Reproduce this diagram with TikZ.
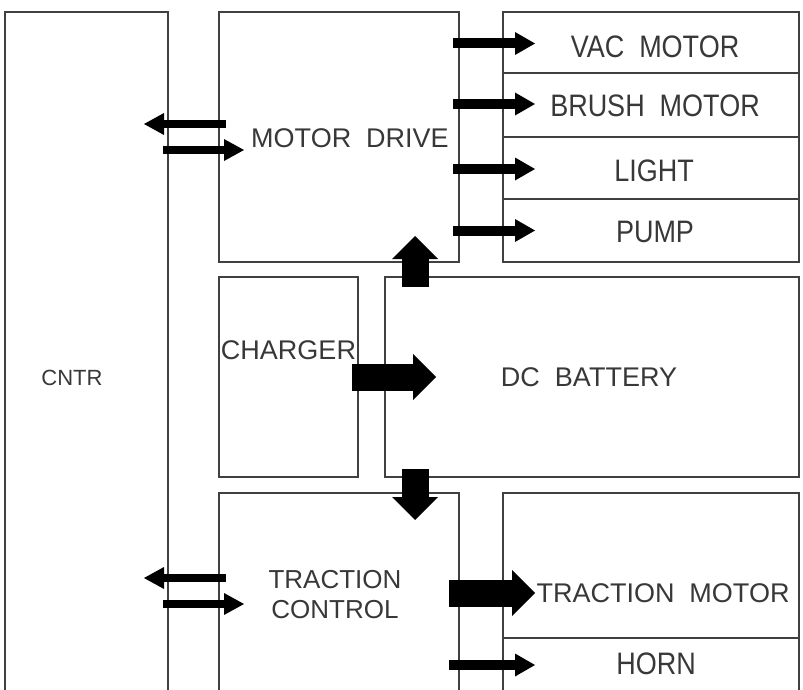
\documentclass[tikz,border=0pt]{standalone}
\usepackage{fontspec}
\usepackage{graphicx}
\setmainfont{Liberation Sans}
\usetikzlibrary{arrows.meta,calc}
\newcommand{\tallmark}[1]{\scalebox{1}[1.15]{#1}}
\begin{document}
\begin{tikzpicture}[x=1pt,y=-1pt,
  box/.style={draw=black!75, line width=1.2pt, inner sep=0pt, outer sep=0pt, anchor=north west, rectangle},
  lbl/.style={text=black!78, inner sep=0pt, font=\fontsize{27pt}{32pt}\selectfont},
  thinarr/.style={line width=10pt, -{Triangle[length=20pt,width=23pt,line width=0pt]}},
  sidearr/.style={line width=8pt, -{Triangle[length=20pt,width=22pt,line width=0pt]}},
  fatarr/.style={line width=27pt, -{Triangle[length=23pt,width=46pt,line width=0pt]}}]
\useasboundingbox (0,0) rectangle (803,690);
\clip (0,0) rectangle (803,690);
% boxes
\node[box, minimum width=163pt, minimum height=720pt] (cntr) at (5,12) {};
\node[box, minimum width=240pt, minimum height=250pt] (md) at (219,12) {};
\node[box, minimum width=296pt, minimum height=61pt] (vac) at (503,12) {};
\node[box, minimum width=296pt, minimum height=64pt] (brush) at (503,73) {};
\node[box, minimum width=296pt, minimum height=62pt] (light) at (503,137) {};
\node[box, minimum width=296pt, minimum height=63pt] (pump) at (503,199) {};
\node[box, minimum width=139pt, minimum height=200pt] (chg) at (219,277) {};
\node[box, minimum width=414pt, minimum height=200pt] (bat) at (385,277) {};
\node[box, minimum width=240pt, minimum height=230pt] (tc) at (219,493) {};
\node[box, minimum width=296pt, minimum height=145pt] (tm) at (503,493) {};
\node[box, minimum width=296pt, minimum height=90pt] (horn) at (503,638) {};
% arrows
\draw[thinarr] ($(md.east|-vac.west)+(-6,1)$) -- ($(vac.west)+(32,1)$);
\draw[thinarr] ($(md.east|-brush.west)+(-6,-1)$) -- ($(brush.west)+(32,-1)$);
\draw[thinarr] ($(md.east|-light.west)+(-6,1)$) -- ($(light.west)+(32,1)$);
\draw[thinarr] ($(md.east|-pump.west)+(-6,0)$) -- ($(pump.west)+(32,0)$);
\draw[sidearr] ($(md.west)+(7,-13)$) -- ($(cntr.east|-md.west)+(-24,-13)$);
\draw[sidearr] ($(cntr.east|-md.west)+(-5,13)$) -- ($(md.west)+(25,13)$);
\draw[sidearr] ($(tc.north west)+(7,85)$) -- ($(cntr.east|-tc.north west)+(-24,85)$);
\draw[sidearr] ($(cntr.east|-tc.north west)+(-5,111)$) -- ($(tc.north west)+(25,111)$);
\draw[fatarr] ($(chg.east)+(-6,0)$) -- ($(bat.west)+(51,0)$);
\draw[fatarr] ($(bat.north west)+(30,10)$) -- ($(md.south east)+(-44,-26)$);
\draw[fatarr] ($(bat.south west)+(30,-8)$) -- ($(tc.north east)+(-44,27)$);
\draw[fatarr] ($(tc.north east)+(-10,100)$) -- ($(tm.north west)+(32,100)$);
\draw[thinarr] ($(tc.north east|-horn.north west)+(-10,27)$) -- ($(horn.north west)+(32,27)$);
% labels
\node[lbl] (tmd) at ($(md.center)+(11,1)$) {MOTOR\ \ DRIVE};
\node[lbl] (tvac) at ($(vac.center)+(4,4)$) {\tallmark{VAC\ \ MOTOR}};
\node[lbl] (tbrush) at ($(brush.center)+(4,1)$) {\tallmark{BRUSH\ \ MOTOR}};
\node[lbl] (tlight) at ($(light.center)+(3,3)$) {\tallmark{LIGHT}};
\node[lbl] (tpump) at ($(pump.center)+(4,1.5)$) {\tallmark{PUMP}};
\node[lbl] (tchg) at ($(chg.center)+(0,-27)$) {CHARGER};
\node[lbl] (tbat) at ($(bat.center)+(-3,0)$) {DC\ \ BATTERY};
\node[lbl, font=\fontsize{22pt}{26pt}\selectfont] (tcntr) at ($(cntr.center)+(-14.5,6)$) {CNTR};
\node[lbl, font=\fontsize{26pt}{30pt}\selectfont, align=center] (ttc) at ($(tc.north)+(-4,102)$) {TRACTION\\CONTROL};
\node[lbl] (ttm) at ($(tm.north)+(12,100)$) {TRACTION\ \ MOTOR};
\node[lbl] (thorn) at ($(horn.north)+(5,26)$) {\tallmark{HORN}};
\end{tikzpicture}
\end{document}
